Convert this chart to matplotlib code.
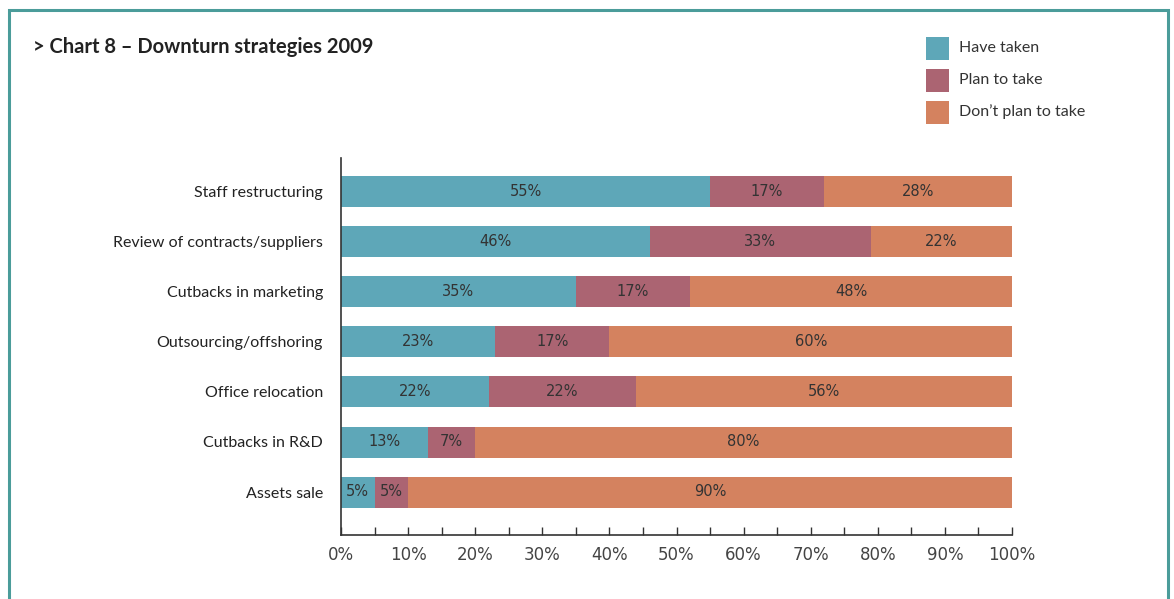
import numpy as np
import matplotlib.pyplot as plt
from matplotlib.patches import Rectangle

# survey shares (%) per downturn strategy
strategies = ['Staff restructuring', 'Review of contracts/suppliers', 'Cutbacks in marketing',
              'Outsourcing/offshoring', 'Office relocation', 'Cutbacks in R&D', 'Assets sale']
have_taken = [55, 46, 35, 23, 22, 13, 5]
plan_to_take = [17, 33, 17, 17, 22, 7, 5]
dont_plan = [28, 22, 48, 60, 56, 80, 90]
series_names = ['Have taken', 'Plan to take', 'Don\u2019t plan to take']
colors = ['#5ea7b8', '#ab6472', '#d4825f']

W, H = 1174, 599
fig = plt.figure(figsize=(W / 100, H / 100), dpi=100)
ax = fig.add_axes([341 / W, 1 - 535 / H, 671 / W, 377 / H])

y = np.arange(len(strategies))
left = np.zeros(len(strategies))
for vals, col in zip([have_taken, plan_to_take, dont_plan], colors):
    vals = np.array(vals, dtype=float)
    ax.barh(y, vals, left=left, height=0.62, color=col, edgecolor='none')
    for yi, l, v in zip(y, left, vals):
        xc = (l + min(l + v, 100)) / 2
        ax.text(xc, yi, '%d%%' % v, ha='center', va='center', fontsize=10.5,
                color='#333333', family='DejaVu Sans')
    left += vals

ax.set_xlim(0, 100)
ax.set_ylim(6.86, -0.68)
ax.set_yticks(y)
ax.set_yticklabels(strategies, family='Lato', fontsize=11.5, color='#222222')
ax.tick_params(axis='y', length=0, pad=13)

ax.set_xticks(np.arange(0, 101, 10))
ax.set_xticklabels(['%d%%' % v for v in range(0, 101, 10)], family='DejaVu Sans',
                   fontsize=12, color='#444444')
ax.set_xticks(np.arange(5, 100, 10), minor=True)
ax.tick_params(axis='x', which='both', direction='in', length=6, width=1,
               color='#333333', pad=8)

for side in ['top', 'right']:
    ax.spines[side].set_visible(False)
for side in ['left', 'bottom']:
    ax.spines[side].set_color('#333333')
    ax.spines[side].set_linewidth(1.2)

fig.text(33 / W, 1 - 47 / H, '> Chart 8 \u2013 Downturn strategies 2009', family='Lato',
         fontweight='bold', fontsize=14.5, color='#222222', va='center')

# legend: colour squares with labels
for i, (name, col) in enumerate(zip(series_names, colors)):
    yc = 48 + 32 * i
    fig.patches.append(Rectangle((926 / W, 1 - (yc + 11.5) / H), 23 / W, 23 / H,
                                 transform=fig.transFigure, facecolor=col, edgecolor='none'))
    fig.text(959 / W, 1 - yc / H, name, family='Lato', fontsize=11.5, color='#333333',
             va='center')

# outer frame
fig.patches.append(Rectangle((9 / W, -0.05), 1159 / W, 1 - 10 / H + 0.05,
                             transform=fig.transFigure, fill=False, edgecolor='#4b9c9a',
                             linewidth=2.2))

fig.savefig('out.png', dpi=100)
